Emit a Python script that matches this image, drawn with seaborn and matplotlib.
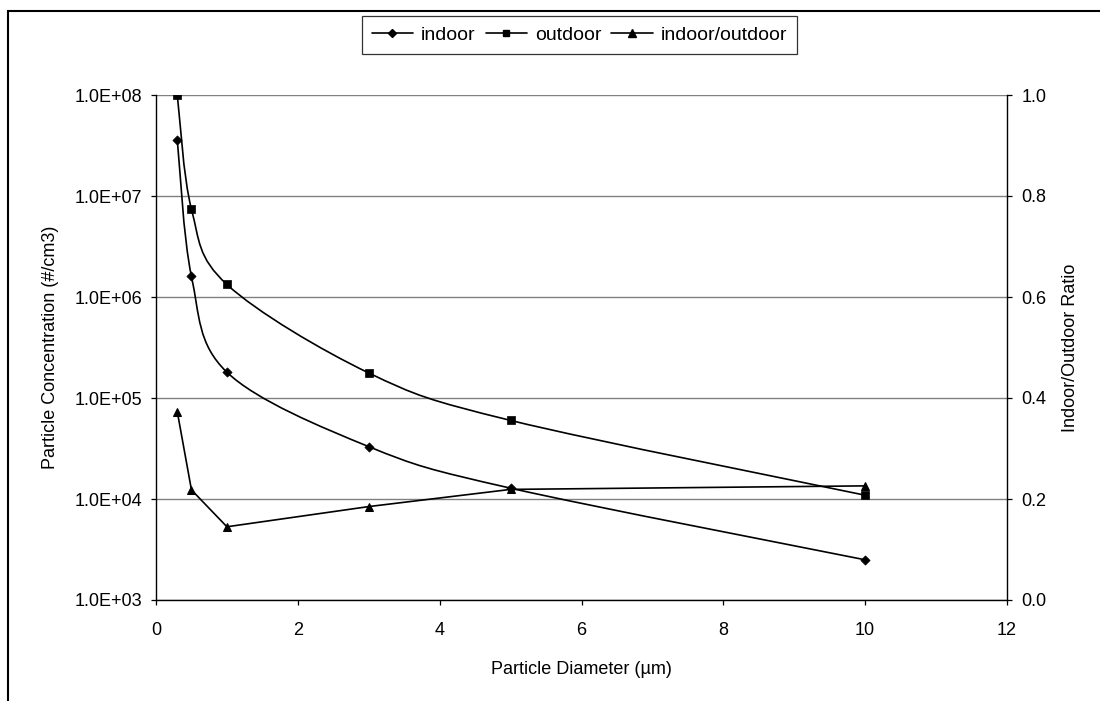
import numpy as np
import pandas as pd
import matplotlib
matplotlib.use("Agg")
import matplotlib.pyplot as plt
import seaborn as sns
from matplotlib.path import Path
from matplotlib.patches import PathPatch, Rectangle
from matplotlib.lines import Line2D
from matplotlib.ticker import FixedLocator, NullLocator, FuncFormatter

# ---- data ----
diameter = [0.3, 0.5, 1, 3, 5, 10]
indoor = [3.6e7, 1.6e6, 1.8e5, 3.3e4, 1.28e4, 2.5e3]
outdoor = [1.0e8, 7.4e6, 1.33e6, 1.77e5, 6.0e4, 1.09e4]
ratio = [0.373, 0.218, 0.145, 0.185, 0.219, 0.226]
series_names = ["indoor", "outdoor", "indoor/outdoor"]
x_ticks = [0, 2, 4, 6, 8, 10, 12]
left_ticks = [1e3, 1e4, 1e5, 1e6, 1e7, 1e8]
right_ticks = [0.0, 0.2, 0.4, 0.6, 0.8, 1.0]

df = pd.DataFrame({"diameter": diameter, "indoor": indoor,
                   "outdoor": outdoor, "ratio": ratio})

sns.set_theme(style="ticks")
plt.rcParams["font.family"] = ["Liberation Sans", "DejaVu Sans"]
FS = 13
LW = 1.2

fig = plt.figure(figsize=(11, 7.01), dpi=100)
fig.patch.set_facecolor("white")
ax = fig.add_axes([156 / 1100, 1 - 600 / 701, (1007 - 156) / 1100, (600 - 95) / 701])
ax.set_facecolor("white")


def smooth_curve(axis, xs, ys):
    """Excel-like smoothed line drawn as Bezier path in log-y space."""
    P = np.column_stack([np.asarray(xs, float), np.log10(np.asarray(ys, float))])
    n = len(P)
    verts = [P[0]]
    codes = [Path.MOVETO]
    for i in range(n - 1):
        p0 = P[max(i - 1, 0)]
        p1 = P[i]
        p2 = P[i + 1]
        p3 = P[min(i + 2, n - 1)]
        c1 = p1 + (p2 - p0) / 6.0
        c2 = p2 - (p3 - p1) / 6.0
        verts += [c1, c2, p2]
        codes += [Path.CURVE4] * 3
    V = np.array(verts)
    V[:, 1] = 10 ** V[:, 1]
    axis.add_patch(PathPatch(Path(V, codes), fill=False, lw=LW, ec="black",
                             zorder=3, transform=axis.transData))


ax.set_yscale("log")
smooth_curve(ax, df["diameter"], df["indoor"])
smooth_curve(ax, df["diameter"], df["outdoor"])
sns.scatterplot(data=df, x="diameter", y="indoor", marker="D", s=22,
                color="black", edgecolor="black", linewidth=0.5, ax=ax,
                zorder=4, legend=False)
sns.scatterplot(data=df, x="diameter", y="outdoor", marker="s", s=26,
                color="black", edgecolor="black", linewidth=0.5, ax=ax,
                zorder=4, legend=False)

ax.set_xlim(0, 12)
ax.set_ylim(1e3, 1e8)
ax.xaxis.set_major_locator(FixedLocator(x_ticks))
ax.yaxis.set_major_locator(FixedLocator(left_ticks))
ax.yaxis.set_minor_locator(NullLocator())
ax.yaxis.set_major_formatter(FuncFormatter(lambda v, p: f"{v:.1E}"))
ax.xaxis.set_major_formatter(FuncFormatter(lambda v, p: f"{v:g}"))
ax.grid(axis="y", color="#808080", lw=1.0)
ax.grid(axis="x", visible=False)
ax.set_axisbelow(True)

ax2 = ax.twinx()
sns.lineplot(data=df, x="diameter", y="ratio", marker="^", markersize=6.3,
             color="black", lw=LW, markeredgecolor="black", ax=ax2,
             legend=False)
ax2.set_ylim(0, 1.0)
ax2.yaxis.set_major_locator(FixedLocator(right_ticks))
ax2.yaxis.set_major_formatter(FuncFormatter(lambda v, p: f"{v:.1f}"))
ax2.grid(False)
ax2.set_xlim(0, 12)

for a in (ax, ax2):
    a.spines["top"].set_visible(False)
    for s in ("left", "right", "bottom"):
        a.spines[s].set_color("black")
        a.spines[s].set_linewidth(1.0)
ax.spines["right"].set_visible(False)
ax2.spines["left"].set_visible(False)
ax2.spines["bottom"].set_visible(False)

ax.tick_params(axis="both", which="major", direction="out", length=3.6,
               width=0.9, color="black", labelsize=FS, labelcolor="black")
ax.tick_params(axis="x", pad=12)
ax.tick_params(axis="y", pad=6.5)
ax2.tick_params(axis="y", which="major", direction="out", length=3.6,
                width=0.9, color="black", labelsize=FS, labelcolor="black", pad=7)

ax.set_xlabel("Particle Diameter (µm)", fontsize=FS, color="black", labelpad=16)
ax.set_ylabel("Particle Concentration (#/cm3)", fontsize=FS, color="black", labelpad=11)
ax2.set_ylabel("Indoor/Outdoor Ratio", fontsize=FS, color="black", labelpad=11)

handles = [
    Line2D([], [], color="black", lw=LW, marker="D", ms=3.6),
    Line2D([], [], color="black", lw=LW, marker="s", ms=4.2),
    Line2D([], [], color="black", lw=LW, marker="^", ms=5.2),
]
leg = fig.legend(handles, series_names, loc="center",
                 bbox_to_anchor=(579.5 / 1100, 1 - 35 / 701), ncol=3,
                 frameon=True, fancybox=False, edgecolor="black",
                 handlelength=2.15, handletextpad=0.4, columnspacing=0.5,
                 borderpad=0.5, borderaxespad=0, fontsize=14)
leg.get_frame().set_linewidth(0.9)
for t in leg.get_texts():
    t.set_color("black")

fig.add_artist(Rectangle((8 / 1100, -0.1), 1.2, (1 - 11 / 701) + 0.1,
                         transform=fig.transFigure, fill=False,
                         ec="black", lw=1.5))

fig.savefig("out.png", dpi=100, facecolor="white")
